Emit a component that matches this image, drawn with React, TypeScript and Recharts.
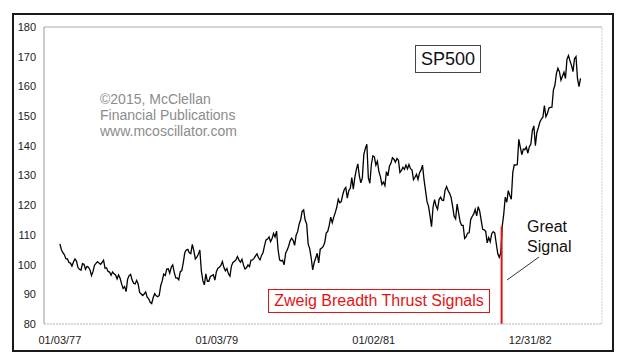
import { LineChart, Line, XAxis, YAxis, ReferenceLine } from "recharts";

// weekly closes, first week starts 01/03/77
const START_DATE = "1977-01-03";

const SP500_1977 = [
  107.0, 105.0, 104.0, 103.3, 101.9, 101.9, 100.7, 100.5, 99.5, 100.9, 101.9, 101.2, 99.0,
  98.4, 98.1, 100.3, 100.1, 98.4, 99.4, 99.1, 98.2, 96.3, 97.7, 99.8, 100.4, 101.0,
  100.5, 100.1, 100.7, 101.5, 98.8, 98.9, 97.7, 97.5, 96.4, 97.5, 96.9, 96.5, 95.2,
  96.5, 95.4, 93.5, 92.0, 92.6, 90.9, 95.1, 96.3, 96.7, 94.8, 93.7, 93.5, 94.7,
];
const SP500_1978 = [
  93.5, 90.6, 90.1, 89.6, 90.1, 90.8, 89.0, 88.5, 87.3, 86.9, 88.9, 90.2, 89.5,
  89.2, 89.6, 92.9, 94.5, 96.8, 96.3, 98.5, 98.6, 97.1, 99.1, 99.9, 97.4, 95.5,
  95.5, 94.9, 97.6, 98.0, 100.7, 104.0, 104.9, 105.1, 104.0, 103.7, 106.8, 104.7, 101.9,
  102.5, 103.5, 104.9, 97.9, 94.6, 93.2, 96.9, 94.4, 94.4, 96.0, 96.3, 96.6, 94.8,
];
const SP500_1979 = [
  97.6, 98.8, 99.1, 99.7, 101.0, 99.0, 97.9, 98.7, 96.9, 96.1, 99.5, 100.7, 101.1,
  101.6, 102.7, 101.6, 100.8, 101.8, 99.9, 98.5, 98.9, 99.9, 99.3, 101.5, 101.6, 102.1,
  102.9, 103.6, 102.3, 101.6, 103.1, 104.0, 106.4, 108.3, 108.6, 109.3, 107.7, 108.8, 110.5,
  109.3, 111.3, 105.0, 101.6, 101.2, 101.5, 99.9, 103.8, 104.8, 106.2, 108.0, 108.9, 108.2,
];
const SP500_1980 = [
  106.5, 109.9, 111.1, 113.6, 115.1, 117.9, 118.4, 115.0, 113.7, 106.9, 105.4, 102.3, 98.2,
  100.7, 102.2, 103.8, 100.6, 105.2, 105.6, 106.1, 107.4, 110.6, 111.2, 113.2, 116.0, 114.1,
  116.0, 117.5, 119.3, 122.0, 120.8, 121.2, 123.6, 125.3, 126.0, 122.4, 124.9, 125.7, 129.3,
  125.4, 129.3, 132.0, 133.9, 129.9, 127.5, 129.2, 137.1, 139.1, 140.5, 129.2, 127.4, 133.7,
];
const SP500_1981 = [
  136.6, 136.3, 133.5, 134.8, 131.4, 129.6, 127.0, 127.8, 126.6, 131.3, 129.9, 133.1, 134.1,
  136.0, 135.5, 134.5, 135.7, 135.1, 131.0, 131.7, 132.8, 132.1, 133.5, 132.2, 133.7, 132.3,
  131.9, 128.6, 129.4, 130.4, 128.7, 130.9, 131.8, 133.5, 128.6, 124.9, 121.2, 119.6, 116.3,
  112.8, 119.4, 121.9, 119.7, 118.6, 121.9, 122.7, 121.7, 121.6, 125.1, 126.3, 124.9, 124.0,
];
const SP500_1982 = [
  122.6, 119.6, 116.3, 115.4, 120.4, 117.3, 114.4, 113.2, 113.2, 108.8, 109.4, 110.6, 110.7,
  115.1, 116.2, 117.0, 118.6, 116.4, 119.5, 118.0, 114.9, 111.9, 111.7, 111.2, 107.3, 109.1,
  107.7, 110.4, 111.1, 110.7, 107.1, 103.7, 102.4, 103.9, 113.0, 117.1, 122.7, 121.0, 124.9,
  123.3, 122.0, 131.1, 133.6, 133.5, 133.7, 142.2, 139.5, 137.0, 138.9, 138.7, 139.6, 137.5,
  139.7,
];
const SP500_1983 = [
  140.6, 145.2, 146.7, 140.0, 144.5, 146.1, 148.0, 149.0, 149.6, 153.5, 149.8, 150.9, 152.7,
  152.9, 153.0, 158.8, 160.4, 164.4, 166.1, 164.9, 162.1, 163.4, 164.8, 162.7, 169.1, 170.4,
  168.6, 167.1, 165.0, 169.3, 170.0, 162.6, 159.9, 162.7,
];

const X_TICK_DATES = ["1977-01-03", "1979-01-03", "1981-01-02", "1982-12-31"];
const X_TICK_LABELS = ["01/03/77", "01/03/79", "01/02/81", "12/31/82"];
const X_DOMAIN_DATES = ["1976-10-21", "1983-11-30"];
const Y_TICKS = [80, 90, 100, 110, 120, 130, 140, 150, 160, 170, 180];

const SIGNAL_DATE = "1982-08-20";
const SIGNAL_TOP = 112.8;

const DAY_MS = 86400000;
const toDay = (d: string) => Math.round((Date.parse(d) - Date.parse(START_DATE)) / DAY_MS);

const weekly = [
  ...SP500_1977,
  ...SP500_1978,
  ...SP500_1979,
  ...SP500_1980,
  ...SP500_1981,
  ...SP500_1982,
  ...SP500_1983,
];
const data = weekly.map((value, i) => ({ day: i * 7, value }));

const xTicks = X_TICK_DATES.map(toDay);
const xDomain = X_DOMAIN_DATES.map(toDay);
const signalDay = toDay(SIGNAL_DATE);

const FONT = "Arial, 'Liberation Sans', sans-serif";
const RED = "#e31414";

export default function App() {
  return (
    <div
      style={{
        position: "absolute",
        left: 0,
        top: 0,
        width: 632,
        height: 361,
        background: "#fff",
        fontFamily: FONT,
      }}
    >
      <div
        style={{
          position: "absolute",
          left: 12,
          top: 13,
          width: 598,
          height: 335,
          border: "2px solid #1a1a1a",
        }}
      />
      <LineChart
        width={632}
        height={361}
        data={data}
        margin={{ top: 27, right: 30, bottom: 17, left: 12 }}
        style={{ position: "absolute", left: 0, top: 0 }}
      >
        <XAxis
          dataKey="day"
          type="number"
          domain={xDomain}
          ticks={xTicks}
          tickFormatter={(v: number) => X_TICK_LABELS[xTicks.indexOf(v)] ?? ""}
          allowDataOverflow
          height={20}
          tickLine={false}
          tickMargin={6}
          axisLine={{ stroke: "#b0b0b0", strokeDasharray: "2 1" }}
          tick={{ fill: "#222", fontSize: 11, fontFamily: FONT }}
        />
        <YAxis
          type="number"
          domain={[80, 180]}
          ticks={Y_TICKS}
          width={32}
          tickLine={false}
          axisLine={{ stroke: "#999" }}
          tick={{ fill: "#222", fontSize: 11, fontFamily: FONT }}
        />
        <ReferenceLine y={180} stroke="#aaa" />
        <ReferenceLine x={xDomain[1]} stroke="#ccc" strokeDasharray="2 1" />
        <Line
          dataKey="value"
          stroke="#000"
          strokeWidth={1.3}
          dot={false}
          isAnimationActive={false}
        />
        <ReferenceLine
          segment={[
            { x: signalDay, y: 80 },
            { x: signalDay, y: SIGNAL_TOP },
          ]}
          stroke={RED}
          strokeWidth={2}
        />
      </LineChart>

      <div
        style={{
          position: "absolute",
          left: 415,
          top: 45,
          width: 64,
          height: 26,
          border: "1px solid #444",
          background: "#fff",
          fontSize: 18,
          lineHeight: "26px",
          textAlign: "center",
          color: "#111",
        }}
      >
        SP500
      </div>

      <div
        style={{
          position: "absolute",
          left: 100,
          top: 91,
          fontSize: 14,
          lineHeight: "16px",
          color: "#8c8c8c",
        }}
      >
        <div>©2015, McClellan</div>
        <div>Financial Publications</div>
        <div>www.mcoscillator.com</div>
      </div>

      <div
        style={{
          position: "absolute",
          left: 527,
          top: 217,
          fontSize: 16,
          lineHeight: "20px",
          color: "#111",
        }}
      >
        <div>Great</div>
        <div>Signal</div>
      </div>
      <svg
        width={632}
        height={361}
        style={{ position: "absolute", left: 0, top: 0, pointerEvents: "none" }}
      >
        <line x1={507} y1={280} x2={539} y2={257} stroke="#333" strokeWidth={1} />
      </svg>

      <div
        style={{
          position: "absolute",
          left: 268,
          top: 289,
          width: 220,
          height: 22,
          border: `1px solid ${RED}`,
          background: "#fff",
          fontSize: 16,
          lineHeight: "22px",
          textAlign: "center",
          color: RED,
        }}
      >
        Zweig Breadth Thrust Signals
      </div>
    </div>
  );
}
